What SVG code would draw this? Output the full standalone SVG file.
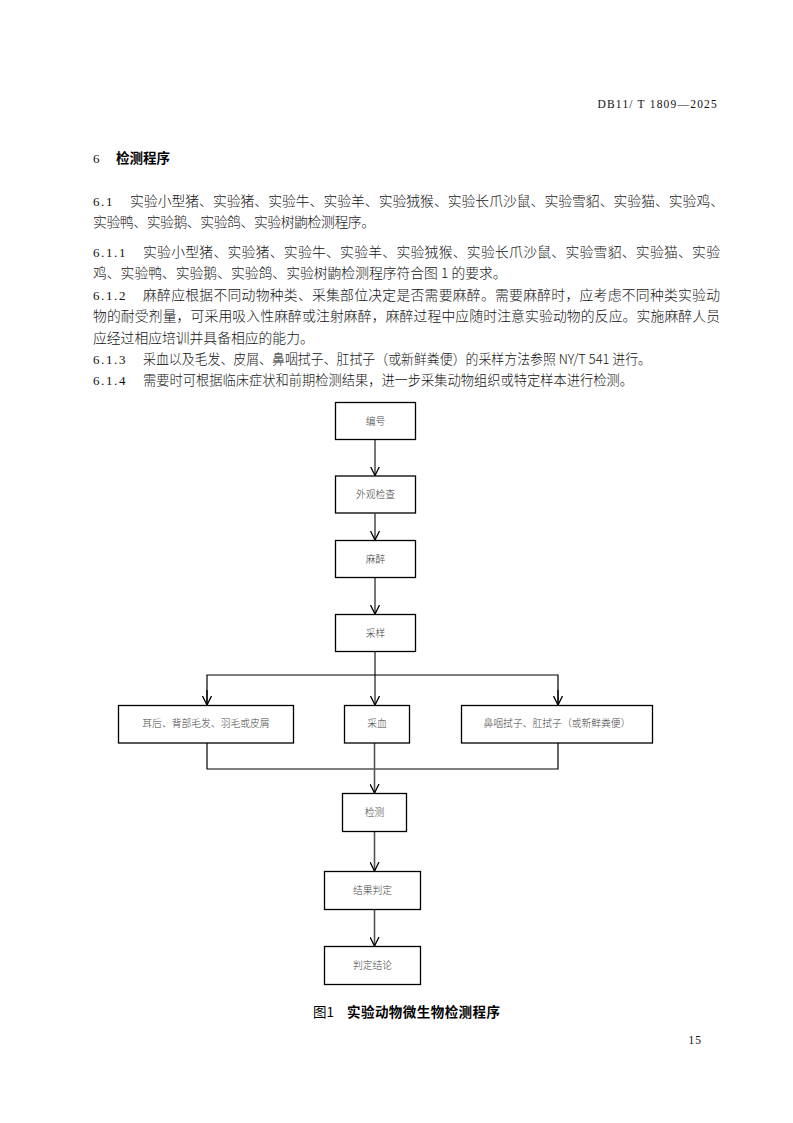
<svg xmlns="http://www.w3.org/2000/svg" width="793" height="1123" viewBox="0 0 793 1123">
<defs>
<style>
.body{font-family:"Noto Sans CJK SC","Noto Sans",sans-serif;font-size:13.8px;font-weight:300;fill:#111}
.num{font-family:"Liberation Serif","Noto Sans CJK SC",serif;font-size:13px;fill:#111;letter-spacing:1.6px}
.head{font-family:"Noto Sans CJK SC",sans-serif;font-size:13.5px;font-weight:bold;fill:#000}
.box{fill:#fff;stroke:#000;stroke-width:1.3}
.lbl{font-family:"Noto Sans CJK SC",sans-serif;font-size:9.8px;font-weight:300;fill:#444;text-anchor:middle}
.v{stroke:#555;stroke-width:1.6;fill:none}
.h{stroke:#000;stroke-width:1.2;fill:none}
</style>
<marker id="arr" viewBox="0 0 9 10" refX="9" refY="5" markerWidth="9" markerHeight="10" markerUnits="userSpaceOnUse" orient="auto">
<path d="M0,0.5 L9,5 L0,9.5" fill="none" stroke="#000" stroke-width="1.3"/>
</marker>
</defs>
<rect width="793" height="1123" fill="#fff"/>

<g id="page-text">
<text x="718" y="108" text-anchor="end" font-family="Liberation Serif, serif" font-size="11.5" fill="#111" letter-spacing="1.2">DB11/ T 1809—2025</text>
<text x="93" y="163" class="num">6</text>
<text x="116" y="163" class="head">检测程序</text>

<text x="93" y="206" class="num">6.1</text>
<text x="130" y="206" class="body" textLength="594" lengthAdjust="spacing">实验小型猪、实验猪、实验牛、实验羊、实验狨猴、实验长爪沙鼠、实验雪貂、实验猫、实验鸡、</text>
<text x="93" y="227" class="body" textLength="282" lengthAdjust="spacing">实验鸭、实验鹅、实验鸽、实验树鼩检测程序。</text>

<text x="93" y="257" class="num">6.1.1</text>
<text x="143" y="257" class="body" textLength="577" lengthAdjust="spacing">实验小型猪、实验猪、实验牛、实验羊、实验狨猴、实验长爪沙鼠、实验雪貂、实验猫、实验</text>
<text x="93" y="278" class="body">鸡、实验鸭、实验鹅、实验鸽、实验树鼩检测程序符合图 1 的要求。</text>
<text x="93" y="300" class="num">6.1.2</text>
<text x="143" y="300" class="body" textLength="577" lengthAdjust="spacing">麻醉应根据不同动物种类、采集部位决定是否需要麻醉。需要麻醉时，应考虑不同种类实验动</text>
<text x="93" y="321" class="body" textLength="627" lengthAdjust="spacing">物的耐受剂量，可采用吸入性麻醉或注射麻醉，麻醉过程中应随时注意实验动物的反应。实施麻醉人员</text>
<text x="93" y="343" class="body">应经过相应培训并具备相应的能力。</text>
<text x="93" y="364" class="num">6.1.3</text>
<text x="143" y="364" class="body" textLength="508" lengthAdjust="spacingAndGlyphs">采血以及毛发、皮屑、鼻咽拭子、肛拭子（或新鲜粪便）的采样方法参照 NY/T 541 进行。</text>
<text x="93" y="385" class="num">6.1.4</text>
<text x="143" y="385" class="body" textLength="490" lengthAdjust="spacingAndGlyphs">需要时可根据临床症状和前期检测结果，进一步采集动物组织或特定样本进行检测。</text>

<text x="313" y="1017" font-family="Noto Sans CJK SC, sans-serif" font-size="13.5" fill="#000">图1</text>
<text x="347" y="1017" font-family="Noto Sans CJK SC, sans-serif" font-size="13.5" font-weight="bold" fill="#000" textLength="153" lengthAdjust="spacing">实验动物微生物检测程序</text>
<text x="702" y="1044" text-anchor="end" font-family="Liberation Serif, serif" font-size="11.5" fill="#111" letter-spacing="1">15</text>
</g>

<g id="connectors">
<line class="v" x1="375" y1="439.5" x2="375" y2="475.5" marker-end="url(#arr)"/>
<line class="v" x1="375" y1="513.5" x2="375" y2="540" marker-end="url(#arr)"/>
<line class="v" x1="375" y1="577.5" x2="375" y2="614" marker-end="url(#arr)"/>
<line class="v" x1="375" y1="651.5" x2="375" y2="705" marker-end="url(#arr)"/>
<polyline class="h" points="207,705 207,675 558,675 558,705" />
<line class="h" x1="207" y1="690" x2="207" y2="705" marker-end="url(#arr)"/>
<line class="h" x1="558" y1="690" x2="558" y2="705" marker-end="url(#arr)"/>
<polyline class="h" points="207,743 207,769 558,769 558,743" />
<line class="v" x1="374.5" y1="743" x2="374.5" y2="793" marker-end="url(#arr)"/>
<line class="v" x1="374.5" y1="831.5" x2="374.5" y2="871" marker-end="url(#arr)"/>
<line class="v" x1="374.5" y1="909.5" x2="374.5" y2="946" marker-end="url(#arr)"/>
</g>

<g id="n-bianhao"><rect class="box" x="335.5" y="402.5" width="80" height="37"/><text class="lbl" x="375.5" y="424.5">编号</text></g>
<g id="n-waiguan"><rect class="box" x="335.5" y="476" width="80" height="37"/><text class="lbl" x="375.5" y="498">外观检查</text></g>
<g id="n-mazui"><rect class="box" x="335.5" y="540.5" width="80" height="37"/><text class="lbl" x="375.5" y="562.5">麻醉</text></g>
<g id="n-caiyang"><rect class="box" x="335.5" y="614.5" width="80" height="37"/><text class="lbl" x="375.5" y="636.5">采样</text></g>
<g id="n-maofa"><rect class="box" x="118.5" y="705.5" width="175" height="37.5"/><text class="lbl" x="206" y="726.5">耳后、背部毛发、羽毛或皮屑</text></g>
<g id="n-caixue"><rect class="box" x="344.5" y="705.5" width="65" height="37.5"/><text class="lbl" x="377" y="726.5">采血</text></g>
<g id="n-shizi"><rect class="box" x="461.5" y="705.5" width="191" height="37.5"/><text class="lbl" x="557" y="726.5">鼻咽拭子、肛拭子（或新鲜粪便）</text></g>
<g id="n-jiance"><rect class="box" x="342.5" y="793.5" width="64" height="38"/><text class="lbl" x="374.5" y="815.5">检测</text></g>
<g id="n-jieguo"><rect class="box" x="324.5" y="871.5" width="96" height="38"/><text class="lbl" x="372.5" y="893.5">结果判定</text></g>
<g id="n-jielun"><rect class="box" x="324.5" y="946.5" width="96" height="38"/><text class="lbl" x="372.5" y="968.5">判定结论</text></g>
</svg>
